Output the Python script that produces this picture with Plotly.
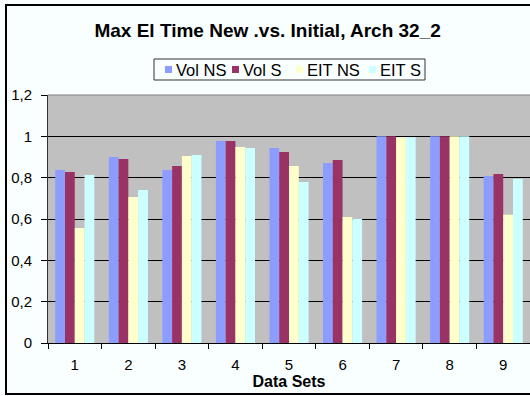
import plotly.graph_objects as go

categories = ["1", "2", "3", "4", "5", "6", "7", "8", "9"]
series_names = ["Vol NS", "Vol S", "EIT NS", "EIT S"]
vol_ns = [0.837, 0.900, 0.837, 0.977, 0.943, 0.871, 1.000, 1.000, 0.808]
vol_s = [0.827, 0.890, 0.856, 0.977, 0.924, 0.885, 1.000, 1.000, 0.818]
eit_ns = [0.556, 0.706, 0.905, 0.948, 0.856, 0.610, 0.995, 1.000, 0.620]
eit_s = [0.813, 0.740, 0.910, 0.943, 0.779, 0.600, 0.995, 1.000, 0.793]
colors = ["#8C9CFF", "#993366", "#FFFFCC", "#CCFFFF"]
title_text = "Max El Time New .vs. Initial, Arch 32_2"
x_title = "Data Sets"

FONT = "Liberation Sans, Arial, sans-serif"
BG = "#F9FEFE"

# plot-area geometry in pixels (used to place legend/frame in paper coords)
L, R, T, B = 48, 530, 95, 343
def px(x):
    return (x - L) / (R - L)
def py(y):
    return (B - y) / (B - T)

fig = go.Figure()
for name, vals, col in zip(series_names, [vol_ns, vol_s, eit_ns, eit_s], colors):
    fig.add_trace(go.Bar(x=categories, y=vals, name=name,
                         marker=dict(color=col, line=dict(width=0))))

fig.update_layout(
    width=530, height=396,
    margin=dict(l=L, r=530 - R, t=T, b=396 - B, autoexpand=False),
    paper_bgcolor=BG, plot_bgcolor="#C0C0C0",
    separators=", ",
    barmode="group", bargap=0.27, bargroupgap=0,
    font=dict(family=FONT, size=15, color="black"),
    title=dict(text="<b>" + title_text + "</b>", x=0.505, xanchor="center",
               y=1 - 30 / 396, yanchor="middle", font=dict(size=19, family=FONT, color="black")),
    showlegend=False,
    xaxis=dict(type="category", tickson="boundaries", ticks="outside", ticklen=5,
               tickcolor="black", showline=True, linecolor="black", linewidth=1,
               showgrid=False, ticklabelstandoff=8, tickfont=dict(size=15),
               title=dict(text="<b>" + x_title + "</b>", standoff=2,
                          font=dict(size=16, family=FONT))),
    yaxis=dict(range=[0, 1.2], dtick=0.2, tick0=0, ticks="outside", ticklen=6,
               tickcolor="black", showline=True, linecolor="#333333", linewidth=1,
               showgrid=True, gridcolor="black", gridwidth=1, zeroline=False,
               ticklabelstandoff=6, tickfont=dict(size=15)),
)

# top border of plot area (grey) and outer chart frame
fig.add_shape(type="line", xref="paper", yref="paper", x0=0, x1=1, y0=1, y1=1,
              line=dict(color="#808080", width=1))
fig.add_shape(type="rect", xref="paper", yref="paper",
              x0=px(6), x1=px(532), y0=py(394), y1=py(5),
              line=dict(color="black", width=2), layer="above")

# legend (box, swatches, labels)
fig.add_shape(type="rect", xref="paper", yref="paper",
              x0=px(154), x1=px(425), y0=py(80), y1=py(59),
              line=dict(color="#333333", width=1), fillcolor=BG, layer="above")
tx_x = [175, 242, 306, 379]
for name, col, tx in zip(series_names, colors, tx_x):
    fig.add_shape(type="rect", xref="paper", yref="paper",
                  x0=px(tx - 10), x1=px(tx - 3), y0=py(73), y1=py(66),
                  line=dict(width=0), fillcolor=col, layer="above")
    fig.add_annotation(text=name, xref="paper", yref="paper", x=px(tx), y=py(70),
                       xanchor="left", yanchor="middle", showarrow=False,
                       font=dict(size=16.5, family=FONT, color="black"),
                       borderpad=0)

fig.write_html("out.html", config={"displayModeBar": False},
               post_script="document.body.style.margin='0';")
